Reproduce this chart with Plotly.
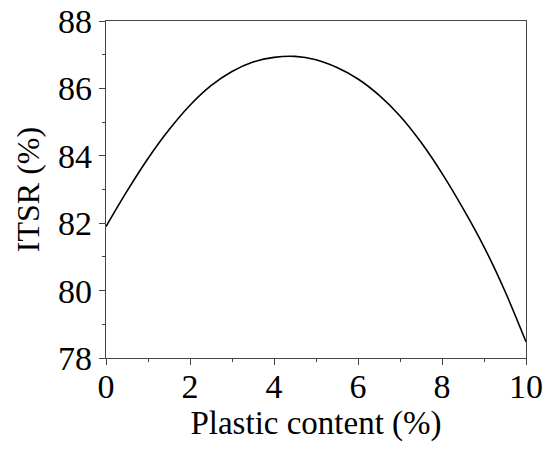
import plotly.graph_objects as go

plastic_content = [0, 0.5, 1, 1.5, 2, 2.5, 3, 3.5, 4, 4.5, 5, 5.5, 6, 6.5, 7, 7.5, 8, 8.5, 9, 9.5, 10]
itsr = [81.90, 82.95, 83.92, 84.77, 85.50, 86.08, 86.50, 86.78, 86.92, 86.95, 86.85, 86.62, 86.28, 85.80, 85.18, 84.40, 83.48, 82.44, 81.30, 79.98, 78.48]

x_ticks = [0, 2, 4, 6, 8, 10]
y_ticks = [78, 80, 82, 84, 86, 88]

FONT = "Liberation Serif, Times New Roman, serif"

fig = go.Figure()
fig.add_trace(go.Scatter(
    x=plastic_content, y=itsr, mode="lines",
    line=dict(color="black", width=1.6, shape="spline", smoothing=1.0),
    showlegend=False, hoverinfo="skip",
))

axis_common = dict(
    showgrid=False, zeroline=False, automargin=False,
    showline=True, linecolor="#444", linewidth=1.3, mirror=True,
    ticks="outside", ticklen=6, tickwidth=1.3, tickcolor="#444",
    tickfont=dict(family=FONT, size=34, color="black"),
)

fig.update_xaxes(
    range=[0, 10], tickvals=x_ticks, ticktext=[str(v) for v in x_ticks],
    minor=dict(dtick=1, ticks="outside", ticklen=3, tickwidth=1.3, tickcolor="#444", showgrid=False),
    ticklabelstandoff=-8,
    title=dict(text="Plastic content (%)", font=dict(family=FONT, size=33, color="black"), standoff=3),
    **axis_common,
)
fig.update_yaxes(
    range=[78, 88], tickvals=y_ticks, ticktext=[str(v) for v in y_ticks],
    minor=dict(dtick=1, ticks="outside", ticklen=3, tickwidth=1.3, tickcolor="#444", showgrid=False),
    title=dict(text="ITSR (%)", font=dict(family=FONT, size=32, color="black"), standoff=8),
    **axis_common,
)

fig.update_layout(
    width=552, height=452,
    margin=dict(l=106, r=26, t=21, b=94),
    plot_bgcolor="white", paper_bgcolor="white",
)

fig.write_html("out.html")
